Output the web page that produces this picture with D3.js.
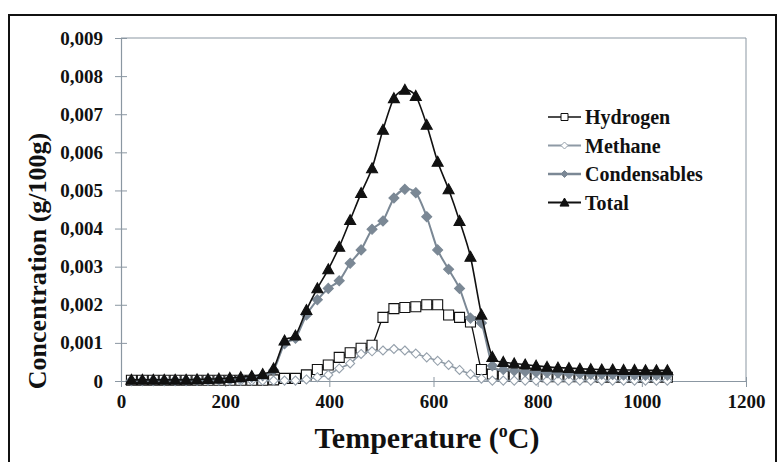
<!DOCTYPE html>
<html><head><meta charset="utf-8">
<script src="https://cdn.jsdelivr.net/npm/d3@7"></script>
<style>html,body{margin:0;padding:0;background:#fff;}svg{display:block;}
.serif{font-family:"Liberation Serif","Times New Roman",Times,serif;}</style>
</head><body><svg id="c" width="781" height="462"></svg>
<script>
const temps = [20,41,62,83,104,125,146,167,188,209,230,251,272,293,314,335,356,377,398,419,440,461,482,503,524,545,566,587,608,629,650,671,692,713,734,755,776,797,818,839,860,881,902,923,944,965,986,1007,1028,1049];
const hydrogen = [0.00002,0.00002,0.00002,0.00002,0.00002,0.00002,0.00002,0.00002,0.00002,0.00002,0.00002,0.00002,0.00002,0.00003,0.00007,0.00007,0.00016,0.0003,0.00042,0.00062,0.00074,0.00086,0.00094,0.00167,0.0019,0.00193,0.00195,0.002,0.002,0.00173,0.00167,0.00155,0.0003,0.00018,0.00013,0.00012,0.00012,0.00012,0.00011,0.00011,0.00011,0.00011,0.00011,0.0001,0.0001,0.0001,0.0001,0.0001,0.0001,0.0001];
const methane = [0.00001,0.00001,0.00001,0.00001,0.00001,0.00001,0.00001,0.00001,0.00001,0.00001,0.00001,0.00001,0.00001,0.00001,0.00001,0.00001,0.00004,0.0001,0.00016,0.00033,0.00046,0.00071,0.00078,0.0008,0.00084,0.0008,0.00072,0.00062,0.00053,0.00042,0.00029,0.00018,0.00006,0.00001,0.00001,0.00001,0.00001,0.00001,0.00001,0.00001,0.00001,0.00001,0.00001,0.00001,0.00001,0.00001,0.00001,0.00001,0.00001,0.00001];
const condensables = [0.00001,0.00001,0.00001,0.00001,0.00001,0.00001,0.00002,0.00003,0.00004,0.00005,0.00007,0.0001,0.00014,0.00028,0.00098,0.00112,0.00173,0.00213,0.00243,0.00263,0.00309,0.00344,0.00398,0.0042,0.0048,0.00503,0.00494,0.00431,0.00344,0.00293,0.00243,0.00165,0.00152,0.0004,0.0003,0.00027,0.00025,0.00023,0.00022,0.00021,0.0002,0.00019,0.00018,0.00018,0.00017,0.00016,0.00016,0.00015,0.00015,0.00015];
const total = [0.00003,0.00003,0.00003,0.00003,0.00003,0.00003,0.00004,0.00005,0.00006,0.00008,0.0001,0.00013,0.00018,0.00033,0.00106,0.00119,0.00186,0.00243,0.00293,0.00352,0.00422,0.00493,0.00558,0.00659,0.00742,0.00764,0.00748,0.00672,0.00575,0.00503,0.0042,0.00326,0.00174,0.00063,0.0005,0.00046,0.00043,0.0004,0.00037,0.00035,0.00034,0.00032,0.00031,0.0003,0.0003,0.00029,0.00029,0.00028,0.00028,0.00028];
const seriesNames = ["Hydrogen","Methane","Condensables","Total"];
const xTicks = [0,200,400,600,800,1000,1200];
const yTicks = [0,0.001,0.002,0.003,0.004,0.005,0.006,0.007,0.008,0.009];

const svg = d3.select("#c");
const axisCol = "#8b97a2";
svg.append("rect").attr("x",9).attr("y",15).attr("width",767).attr("height",470)
  .attr("fill","#fff").attr("stroke","#111").attr("stroke-width",2);

const x = d3.scaleLinear().domain([0,1200]).range([121,746]);
const y = d3.scaleLinear().domain([0,0.009]).range([381,38]);

svg.append("path").attr("d",`M121,38H746V381`).attr("fill","none").attr("stroke",axisCol).attr("stroke-width",1);

const fmt = v => v===0 ? "0" : d3.format(".3f")(v).replace(".",",");
const yAxis = svg.append("g").attr("transform","translate(121,0)")
  .call(d3.axisLeft(y).tickValues(yTicks).tickFormat(fmt).tickSizeInner(6).tickSizeOuter(0).tickPadding(12));
const xAxis = svg.append("g").attr("transform","translate(0,381)")
  .call(d3.axisBottom(x).tickValues(xTicks).tickFormat(d3.format("d")).tickSizeInner(6).tickSizeOuter(0).tickPadding(8));
[yAxis,xAxis].forEach(g=>{
  g.attr("font-family",null);
  g.select(".domain").attr("stroke",axisCol).attr("stroke-width",1.2);
  g.selectAll(".tick line").attr("stroke",axisCol);
  g.selectAll("text").attr("class","serif").attr("font-weight","bold").attr("font-size",19).attr("fill","#111");
});
yAxis.selectAll(".tick line").attr("x2",6).attr("x1",-6);
xAxis.selectAll(".tick line").attr("y1",-4).attr("y2",6);

svg.append("text").attr("class","serif").attr("transform","translate(46,261) rotate(-90)").attr("text-anchor","middle")
  .attr("font-weight","bold").attr("font-size",26).attr("fill","#111")
  .text("Concentration (g/100g)");
const xt = svg.append("text").attr("class","serif").attr("x",427).attr("y",448).attr("text-anchor","middle")
  .attr("font-weight","bold").attr("font-size",30).attr("fill","#111");
xt.append("tspan").text("Temperature (");
xt.append("tspan").attr("font-size",18).attr("dy",-11).text("o");
xt.append("tspan").attr("dy",11).text("C)");

const data = [hydrogen, methane, condensables, total];
const styles = [
  {line:"#111", lw:1.3, marker:"square", fill:"#fff", stroke:"#111", size:10},
  {line:"#8e9aa5", lw:1.6, marker:"diamond", fill:"#fff", stroke:"#96a1ac", size:9},
  {line:"#7b8895", lw:2, marker:"diamondF", fill:"#7b8895", stroke:"#7b8895", size:10},
  {line:"#111", lw:1.6, marker:"triangle", fill:"#111", stroke:"#111", size:11}
];
function markerPath(type, s){
  const h=s/2;
  if(type==="square") return `M${-h},${-h}H${h}V${h}H${-h}Z`;
  if(type==="diamond"||type==="diamondF") return `M0,${-h}L${h},0L0,${h}L${-h},0Z`;
  return `M0,${-h*1.0}L${h},${h*0.8}L${-h},${h*0.8}Z`;
}
const line = d3.line().x((d,i)=>x(temps[i])).y(d=>y(d)).curve(d3.curveCardinal.tension(0.2));
data.forEach((vals,k)=>{
  const st = styles[k];
  const g = svg.append("g");
  g.append("path").datum(vals).attr("d",line).attr("fill","none").attr("stroke",st.line).attr("stroke-width",st.lw);
  g.selectAll("path.m").data(vals).enter().append("path").attr("class","m")
    .attr("transform",(d,i)=>`translate(${x(temps[i])},${y(d)})`)
    .attr("d",markerPath(st.marker,st.size)).attr("fill",st.fill).attr("stroke",st.stroke).attr("stroke-width",1.1);
});

const lg = svg.append("g");
seriesNames.forEach((n,k)=>{
  const st = styles[k];
  const cy = 117 + k*28.5;
  lg.append("line").attr("x1",548).attr("x2",581).attr("y1",cy).attr("y2",cy).attr("stroke",st.line).attr("stroke-width",st.lw+0.4);
  lg.append("path").attr("transform",`translate(564.5,${cy})`).attr("d",markerPath(st.marker,st.marker==="triangle"?9:7))
    .attr("fill",st.fill).attr("stroke",st.stroke).attr("stroke-width",1);
  lg.append("text").attr("class","serif").attr("x",585).attr("y",cy).attr("dy","0.35em").attr("font-weight","bold")
    .attr("font-size",20).attr("fill","#111").text(n);
});
</script></body></html>
